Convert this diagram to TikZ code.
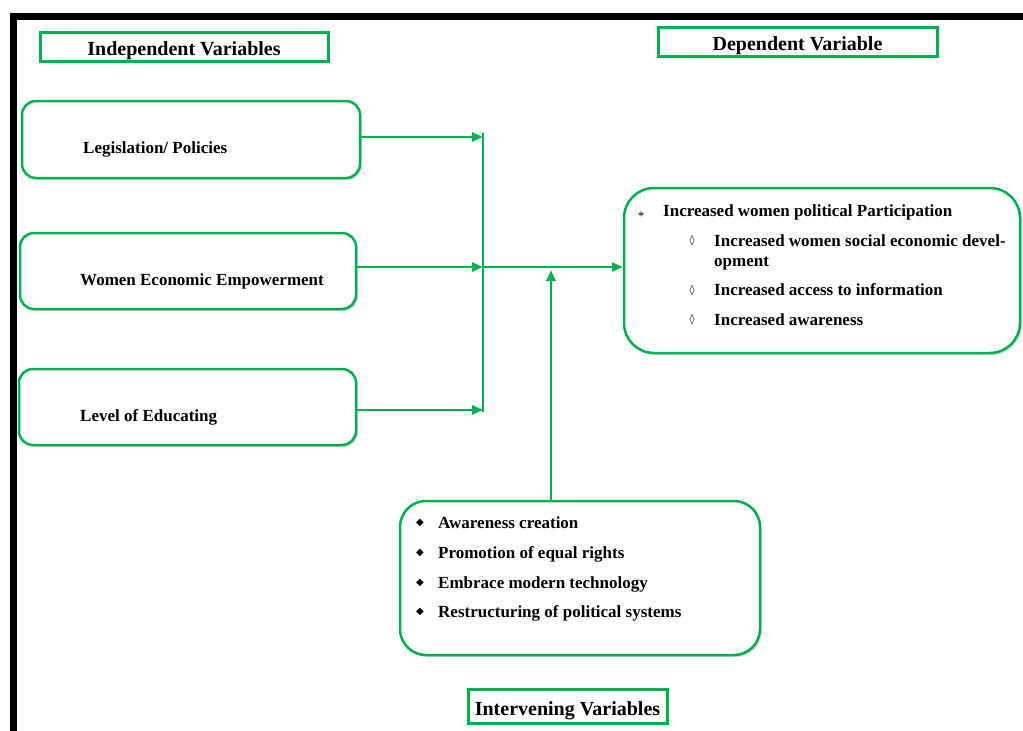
\documentclass[tikz,border=0pt]{standalone}
\usepackage{fontspec}
\setmainfont{Liberation Serif}
\newfontfamily\bulfont{DejaVu Sans}
\usetikzlibrary{arrows.meta,shadows}
\definecolor{wordgreen}{RGB}{0,176,80}
\tikzset{%
	headbox/.style={draw=wordgreen,line width=3pt,fill=white,inner sep=0pt,text height=19pt,text depth=1pt,drop shadow={opacity=0.35,shadow xshift=2pt,shadow yshift=-2pt},font=\bfseries\fontsize{20}{23}\selectfont},
	varbox/.style={draw=wordgreen,line width=2.5pt,fill=white,rounded corners=14pt,drop shadow={opacity=0.3,shadow xshift=2pt,shadow yshift=-2pt}},
	txt/.style={anchor=base west,inner sep=0pt,font=\bfseries\fontsize{17}{20}\selectfont},
	bul/.style={anchor=center,inner sep=0pt,font=\bulfont\fontsize{10}{10}\selectfont},
	flow/.style={wordgreen,line width=2.8pt,-{Triangle[length=11pt,width=9pt]}},
}

\begin{document}
\begin{tikzpicture}[x=1pt,y=-1pt]
			\useasboundingbox (0,0) rectangle (1023,731);
			
			%FRAME
			\draw[black, line width=7pt] (13,731) -- (13,16) -- (1023,16);
			
			%HEADERS
			\node[headbox, minimum width=288pt, minimum height=29pt] (indHead) at (184,46.5) {Independent Variables};
			\node[headbox, minimum width=279pt, minimum height=29pt] (depHead) at (797.5,41.5) {Dependent Variable};
			\node[headbox, minimum width=199pt, minimum height=34pt] (intHead) at (567.5,706) {Intervening Variables};
			
			%INDEPENDENT
			\node[varbox, minimum width=338pt, minimum height=77pt] (leg) at (191,139.5) {};
			\node[varbox, minimum width=336pt, minimum height=76pt] (wee) at (188,271) {};
			\node[varbox, minimum width=337pt, minimum height=76pt] (edu) at (187.5,407) {};
			\node[txt] (legTxt) at (83,153) {Legislation/ Policies};
			\node[txt] (weeTxt) at (80,285) {Women Economic Empowerment};
			\node[txt] (eduTxt) at (80,421) {Level of Educating};
			
			%DEPENDENT
			\node[varbox, rounded corners=30pt, minimum width=396pt, minimum height=165pt] (dep) at (822,270.5) {};
			\node[bul, font=\fontsize{13}{13}\selectfont] (depB0) at (641,216) {*};
			\node[txt] (dep0) at (663,216) {Increased women political Participation};
			\node[bul] (depB1) at (692,241) {◊};
			\node[txt] (dep1) at (714,246) {Increased women social economic devel-};
			\node[txt] (dep1b) at (714,266) {opment};
			\node[bul] (depB2) at (692,291) {◊};
			\node[txt] (dep2) at (714,295.5) {Increased access to information};
			\node[bul] (depB3) at (692,320) {◊};
			\node[txt] (dep3) at (714,325.5) {Increased awareness};
			
			%INTERVENING
			\node[varbox, rounded corners=26pt, minimum width=360pt, minimum height=154pt] (int) at (580,578) {};
			\foreach \y/\t [count=\i] in {528/Awareness creation, 558/Promotion of equal rights, 588/Embrace modern technology, 617/Restructuring of political systems}{
				\node[bul] (intB\i) at (420,\y-5) {◆};
				\node[txt] (int\i) at (438,\y) {\t};
			}
			
			%ARROWS
			\coordinate (barTop) at (483,133);
			\coordinate (barBot) at (483,412);
			\coordinate (junc) at (483,267);
			\coordinate (intTip) at (551,270);
			\draw[wordgreen, line width=2.8pt] (barTop) -- (barBot);
			\draw[flow] (leg.east |- 0,137) -- (barTop |- 0,137);
			\draw[flow] (wee.east |- junc) -- (junc);
			\draw[flow] (edu.east |- 0,410) -- (barTop |- 0,410);
			\draw[flow] (junc) -- (junc -| dep.west);
			\draw[flow] (intTip |- int.north) -- (intTip);
			
\end{tikzpicture}
\end{document}
